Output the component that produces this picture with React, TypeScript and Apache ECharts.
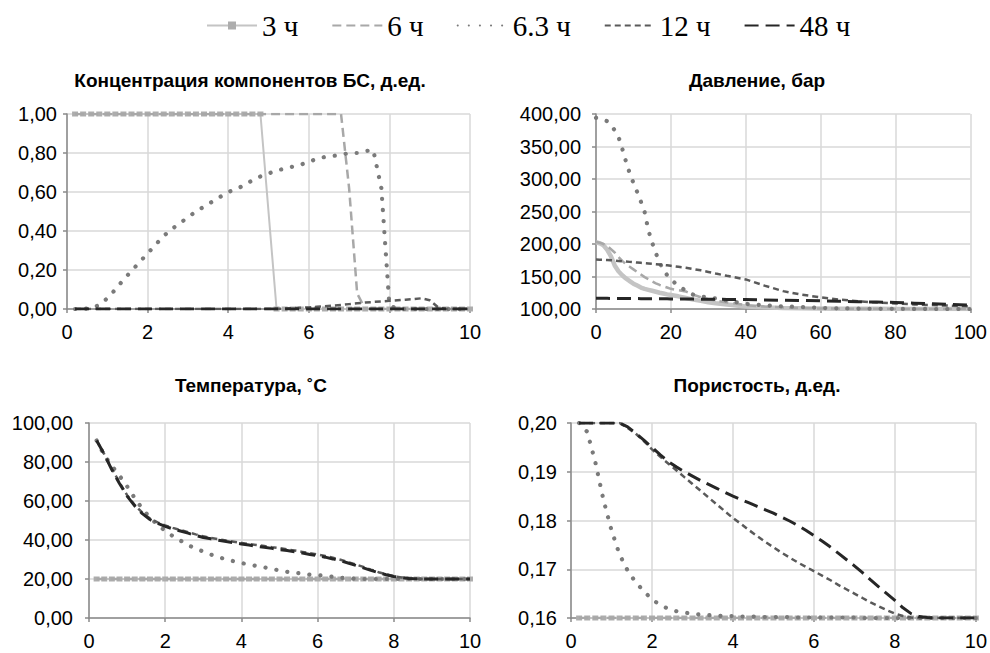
import React, { useEffect, useRef } from 'react';
import * as echarts from 'echarts';

// ---------- data ----------
const SERIES_NAMES = ['3 ч', '6 ч', '6.3 ч', '12 ч', '48 ч'];
const PANEL_TITLES = [
  'Концентрация компонентов БС, д.ед.',
  'Давление, бар',
  'Температура, ˚С',
  'Пористость, д.ед.',
];

const X_DIST = [0.2, 0.4, 0.6, 0.8, 1, 1.2, 1.4, 1.6, 1.8, 2, 2.2, 2.4, 2.6, 2.8, 3, 3.2, 3.4, 3.6, 3.8, 4,
  4.2, 4.4, 4.6, 4.8, 5, 5.2, 5.4, 5.6, 5.8, 6, 6.2, 6.4, 6.6, 6.8, 7, 7.2, 7.4, 7.6, 7.8, 8,
  8.2, 8.4, 8.6, 8.8, 9, 9.2, 9.4, 9.6, 9.8, 10];

const X_PRES = [0, 1, 2, 3, 4, 5, 6, 7, 8, 9, 10, 11, 12, 13, 14, 15, 16, 17, 18, 19, 20, 22, 24, 26, 28, 30,
  32, 35, 40, 45, 50, 55, 60, 65, 70, 75, 80, 85, 90, 95, 100];

// Concentration (д.ед.)
const CONC_3 = [1, 1, 1, 1, 1, 1, 1, 1, 1, 1, 1, 1, 1, 1, 1, 1, 1, 1, 1, 1, 1, 1, 1, 1, null,
  0, 0, 0, 0, 0, 0, 0, 0, 0, 0, 0, 0, 0, 0, 0, 0, 0, 0, 0, 0, 0, 0, 0, 0, 0];
const CONC_6 = [1, 1, 1, 1, 1, 1, 1, 1, 1, 1, 1, 1, 1, 1, 1, 1, 1, 1, 1, 1, 1, 1, 1, 1, 1, 1, 1, 1, 1, 1, 1, 1, 1, 1,
  0.62, 0.08, 0, 0, 0, 0, 0, 0, 0, 0, 0, 0, 0, 0, 0, 0];
const CONC_63 = [0, 0, 0.005, 0.02, 0.055, 0.1, 0.15, 0.195, 0.24, 0.285, 0.33, 0.375, 0.41, 0.44, 0.47, 0.5,
  0.525, 0.55, 0.575, 0.6, 0.615, 0.635, 0.66, 0.68, 0.695, 0.71, 0.72, 0.73, 0.74, 0.755, 0.77, 0.78, 0.785,
  0.79, 0.8, 0.8, 0.81, 0.815, 0.62, 0.02, 0, 0, 0, 0, 0, 0, 0, 0, 0, 0];
const CONC_12 = [0, 0, 0, 0, 0, 0, 0, 0, 0, 0, 0, 0, 0, 0, 0, 0, 0, 0, 0, 0, 0, 0, 0, 0, 0,
  0.001, 0.002, 0.004, 0.006, 0.008, 0.011, 0.014, 0.017, 0.021, 0.025, 0.029, 0.033, 0.036, 0.039, 0.042,
  0.045, 0.048, 0.051, 0.055, 0.045, 0.01, 0, 0, 0, 0];
const CONC_48 = [0, 0, 0, 0, 0, 0, 0, 0, 0, 0, 0, 0, 0, 0, 0, 0, 0, 0, 0, 0, 0, 0, 0, 0, 0,
  0, 0, 0, 0, 0, 0, 0, 0, 0, 0, 0, 0, 0, 0, 0, 0, 0, 0, 0, 0, 0, 0, 0, 0, 0];

// Pressure (бар)
const PRES_3 = [203, 201, 198, 191, 181, 167, 158, 152, 147, 143, 139, 136, 133, 131, 129.5, 128, 126.5, 125,
  123.8, 122.5, 121.5, 119.5, 117, 114.5, 112.5, 110.5, 109, 107, 104, 102.5, 101.5, 101, 100.7, 100.4, 100.3,
  100.2, 100.1, 100, 100, 100, 100];
const PRES_6 = [203, 202, 200, 197, 192, 187, 180, 174, 169, 165, 161, 157, 153, 149, 146, 142.5, 139.5, 137,
  135, 133, 131, 129, 127, 122, 118, 115, 113, 110, 106, 103.8, 102.2, 101.4, 100.8, 100.5, 100.3, 100.2, 100.1,
  100, 100, 100, 100];
const PRES_63 = [394, 393, 391, 389, 383, 375, 365, 347, 327, 309, 294, 280, 265, 249, 221, 202, 186, 171, 161,
  152, 145, 136, 128, 122, 119, 118, 116, 113, 108, 105.5, 104, 103, 101.6, 101, 100.6, 100.3, 100.2, 100.1,
  100, 100, 100];
const PRES_12 = [176, 175.8, 175.6, 175.3, 175, 174.5, 174, 173.5, 173, 172.5, 172, 171.5, 171, 170.5, 170,
  169.5, 169, 168.4, 167.8, 167.2, 166.5, 165, 163.5, 161.5, 159.5, 157, 154.5, 151, 145.5, 136, 127.5, 122,
  118, 114.5, 112, 110, 108.5, 107, 106, 105, 104];
const PRES_48 = [116.5, 116.5, 116.4, 116.4, 116.3, 116.3, 116.2, 116.2, 116.1, 116.1, 116, 116, 115.9, 115.9,
  115.8, 115.8, 115.7, 115.7, 115.6, 115.6, 115.5, 115.4, 115.3, 115.2, 115.1, 115, 114.9, 114.8, 114.5, 114,
  113.5, 113, 112.5, 111.9, 111.3, 110.7, 110, 109, 108, 107, 106];

// Temperature (˚С)
const TEMP_3 = [20, 20, 20, 20, 20, 20, 20, 20, 20, 20, 20, 20, 20, 20, 20, 20, 20, 20, 20, 20, 20, 20, 20, 20, 20,
  20, 20, 20, 20, 20, 20, 20, 20, 20, 20, 20, 20, 20, 20, 20, 20, 20, 20, 20, 20, 20, 20, 20, 20, 20];
const TEMP_6 = [20, 20, 20, 20, 20, 20, 20, 20, 20, 20, 20, 20, 20, 20, 20, 20, 20, 20, 20, 20, 20, 20, 20, 20, 20,
  20, 20, 20, 20, 20, 20, 20, 20, 20, 20, 20, 20, 20, 20, 20, 20, 20, 20, 20, 20, 20, 20, 20, 20, 20];
const TEMP_63 = [91, 83.5, 78, 73, 67.5, 61.5, 56, 51.5, 47.8, 44.7, 42, 39.7, 37.4, 35.6, 34.1, 32.5, 31.2,
  30.1, 29.1, 28.2, 27.4, 26.7, 26, 25.2, 24.4, 23.7, 23.2, 22.8, 22.2, 22, 21.6, 21.1, 20.7, 20.4, 20.1,
  20, 20, 20, 20, 20, 20, 20, 20, 20, 20, 20, 20, 20, 20, 20];
const TEMP_12 = [91, 84, 76.5, 69.5, 63, 58, 54, 51, 49, 47.5, 46.2, 45.1, 44, 42.9, 41.9, 41.1, 40.4, 39.7,
  39.1, 38.5, 37.9, 37.4, 36.9, 36.3, 35.8, 35.2, 34.6, 33.9, 33.2, 32.6, 31.8, 30.9, 29.9, 28.7, 27.5, 26.2,
  24.8, 23.5, 22.4, 21.4, 20.8, 20.4, 20.1, 20, 20, 20, 20, 20, 20, 20];
const TEMP_48 = [91, 84, 76, 69, 62.5, 57.5, 53.5, 50.5, 48.5, 47, 45.7, 44.6, 43.5, 42.3, 41.3, 40.6, 39.9,
  39.2, 38.6, 38, 37.4, 36.8, 36.3, 35.7, 35.1, 34.6, 34, 33.3, 32.6, 32, 31.2, 30.3, 29.3, 28.2, 27, 25.7,
  24.4, 23.2, 22.2, 21.3, 20.7, 20.3, 20.1, 20, 20, 20, 20, 20, 20, 20];

// Porosity (д.ед.)
const POR_3 = [0.16, 0.16, 0.16, 0.16, 0.16, 0.16, 0.16, 0.16, 0.16, 0.16, 0.16, 0.16, 0.16, 0.16, 0.16, 0.16,
  0.16, 0.16, 0.16, 0.16, 0.16, 0.16, 0.16, 0.16, 0.16, 0.16, 0.16, 0.16, 0.16, 0.16, 0.16, 0.16, 0.16, 0.16,
  0.16, 0.16, 0.16, 0.16, 0.16, 0.16, 0.16, 0.16, 0.16, 0.16, 0.16, 0.16, 0.16, 0.16, 0.16, 0.16];
const POR_6 = [0.16, 0.16, 0.16, 0.16, 0.16, 0.16, 0.16, 0.16, 0.16, 0.16, 0.16, 0.16, 0.16, 0.16, 0.16, 0.16,
  0.16, 0.16, 0.16, 0.16, 0.16, 0.16, 0.16, 0.16, 0.16, 0.16, 0.16, 0.16, 0.16, 0.16, 0.16, 0.16, 0.16, 0.16,
  0.16, 0.16, 0.16, 0.16, 0.16, 0.16, 0.16, 0.16, 0.16, 0.16, 0.16, 0.16, 0.16, 0.16, 0.16, 0.16];
const POR_63 = [0.2, 0.1982, 0.192, 0.1843, 0.178, 0.173, 0.1697, 0.1673, 0.1655, 0.1638, 0.1627, 0.1619,
  0.1614, 0.1611, 0.1609, 0.1607, 0.1606, 0.1605, 0.1604, 0.1604, 0.1603, 0.1603, 0.1603, 0.1602, 0.1602,
  0.1602, 0.1602, 0.1601, 0.1601, 0.1601, 0.1601, 0.1601, 0.1601, 0.1601, 0.1601,
  0.16, 0.16, 0.16, 0.16, 0.16, 0.16, 0.16, 0.16, 0.16, 0.16, 0.16, 0.16, 0.16, 0.16, 0.16];
const POR_12 = [0.2, 0.2, 0.2, 0.2, 0.2, 0.2, 0.199, 0.1978, 0.1963, 0.1946, 0.1931, 0.1917, 0.1903, 0.1889,
  0.1875, 0.1861, 0.1847, 0.1833, 0.1819, 0.1805, 0.1793, 0.178, 0.1768, 0.1756, 0.1745, 0.1734, 0.1724,
  0.1714, 0.1705, 0.1696, 0.1687, 0.1678, 0.1668, 0.1659, 0.165, 0.1641, 0.1632, 0.1624, 0.1616, 0.1609,
  0.1604, 0.1601, 0.16, 0.16, 0.16, 0.16, 0.16, 0.16, 0.16, 0.16];
const POR_48 = [0.2, 0.2, 0.2, 0.2, 0.2, 0.2, 0.1992, 0.1979, 0.1965, 0.195, 0.1935, 0.1921, 0.191, 0.19,
  0.1891, 0.1882, 0.1874, 0.1866, 0.1858, 0.185, 0.1843, 0.1836, 0.1829, 0.1822, 0.1815, 0.1807, 0.1799,
  0.179, 0.178, 0.1769, 0.1758, 0.1746, 0.1733, 0.172, 0.1707, 0.1693, 0.1678, 0.1664, 0.165, 0.1636,
  0.1621, 0.1609, 0.1603, 0.1601, 0.16, 0.16, 0.16, 0.16, 0.16, 0.16];

// ---------- styles ----------
const FONT = 'Liberation Sans';
const LINE_STYLES: any[] = [
  { color: '#c4c4c4', width: 2, type: 'solid', marker: '#adadad' },
  { color: '#a8a8a8', width: 2.5, type: [9, 5] },
  { color: '#7a7a7a', width: 4.2, type: [0.1, 11], cap: 'round' },
  { color: '#5a5a5a', width: 2.5, type: [6, 4] },
  { color: '#262626', width: 3, type: [14, 7] },
];

type Panel = {
  grid: { left: number; top: number; width: number; height: number };
  titleX: number; titleY: number;
  xs: number[]; xMin: number; xMax: number; xInt: number;
  yMin: number; yMax: number; yInt: number; yLabelMargin: number;
  data: (number | null)[][];
  markers: boolean;
};

const PANELS: Panel[] = [
  {
    grid: { left: 67, top: 114, width: 403, height: 195 }, titleX: 250, titleY: 71,
    xs: X_DIST, xMin: 0, xMax: 10, xInt: 2, yMin: 0, yMax: 1, yInt: 0.2, yLabelMargin: 10,
    data: [CONC_3, CONC_6, CONC_63, CONC_12, CONC_48], markers: true,
  },
  {
    grid: { left: 596, top: 114, width: 376, height: 195 }, titleX: 757, titleY: 71,
    xs: X_PRES, xMin: 0, xMax: 100, xInt: 20, yMin: 100, yMax: 400, yInt: 50, yLabelMargin: 15,
    data: [PRES_3, PRES_6, PRES_63, PRES_12, PRES_48], markers: false,
  },
  {
    grid: { left: 89, top: 423, width: 381, height: 195 }, titleX: 251, titleY: 376,
    xs: X_DIST, xMin: 0, xMax: 10, xInt: 2, yMin: 0, yMax: 100, yInt: 20, yLabelMargin: 16,
    data: [TEMP_3, TEMP_6, TEMP_63, TEMP_12, TEMP_48], markers: true,
  },
  {
    grid: { left: 571, top: 423, width: 406, height: 195 }, titleX: 757, titleY: 376,
    xs: X_DIST, xMin: 0, xMax: 10, xInt: 2, yMin: 0.16, yMax: 0.2, yInt: 0.01, yLabelMargin: 14,
    data: [POR_3, POR_6, POR_63, POR_12, POR_48], markers: true,
  },
];

function buildOption() {
  const axisLineColor = '#8a8a8a';
  const gridLineColor = '#d9d9d9';
  const labelStyle = { color: '#000', fontFamily: FONT, fontSize: 20 };

  const grids = PANELS.map((p) => ({ ...p.grid, containLabel: false }));
  const titles = PANELS.map((p, i) => ({
    text: PANEL_TITLES[i],
    left: p.titleX,
    top: p.titleY,
    textAlign: 'center',
    padding: 0,
    textStyle: { fontFamily: FONT, fontWeight: 'bold', fontSize: 19, color: '#000' },
  }));
  const xAxes = PANELS.map((p, i) => ({
    type: 'value', gridIndex: i, min: p.xMin, max: p.xMax, interval: p.xInt,
    axisLine: { show: true, onZero: false, lineStyle: { color: axisLineColor, width: 1.5 } },
    axisTick: { show: true, length: 4, lineStyle: { color: axisLineColor, width: 1.5 } },
    splitLine: { show: true, lineStyle: { color: gridLineColor, width: 1.5 } },
    axisLabel: { ...labelStyle, margin: 13, formatter: (v: number) => String(v) },
  }));
  const yAxes = PANELS.map((p, i) => ({
    type: 'value', gridIndex: i, min: p.yMin, max: p.yMax, interval: p.yInt,
    axisLine: { show: true, lineStyle: { color: axisLineColor, width: 1.5 } },
    axisTick: { show: true, length: 4, lineStyle: { color: axisLineColor, width: 1.5 } },
    splitLine: { show: true, lineStyle: { color: gridLineColor, width: 1.5 } },
    axisLabel: { ...labelStyle, margin: p.yLabelMargin, formatter: (v: number) => v.toFixed(2).replace('.', ',') },
  }));

  const series: any[] = [];
  PANELS.forEach((p, pi) => {
    p.data.forEach((vals, si) => {
      const st = LINE_STYLES[si];
      const withMarker = si === 0 && p.markers;
      series.push({
        type: 'line',
        name: SERIES_NAMES[si],
        xAxisIndex: pi,
        yAxisIndex: pi,
        data: p.xs.map((x, k) => [x, vals[k]]),
        connectNulls: true,
        symbol: si === 0 ? 'rect' : 'none',
        symbolSize: withMarker ? [6, 5] : 0,
        showSymbol: withMarker,
        itemStyle: { color: st.marker || st.color },
        lineStyle: {
          color: st.color,
          width: si === 0 && !p.markers ? 4.5 : st.width,
          type: st.type,
          cap: st.cap || 'butt',
        },
        emphasis: { disabled: true },
        silent: true,
        z: 2 + si,
      });
    });
  });

  return {
    animation: false,
    backgroundColor: '#fff',
    title: titles,
    legend: {
      top: 6,
      left: 201,
      itemWidth: 50,
      itemHeight: 10,
      itemGap: 33,
      textStyle: { fontFamily: 'Liberation Serif', fontSize: 29, color: '#000' },
      data: SERIES_NAMES.map((n, i) => (i === 0 ? { name: n } : { name: n, itemStyle: { opacity: 0 } })),
      selectedMode: false,
    },
    grid: grids,
    xAxis: xAxes,
    yAxis: yAxes,
    series,
  };
}

export default function App() {
  const ref = useRef<HTMLDivElement>(null);
  useEffect(() => {
    if (!ref.current) return;
    const chart = echarts.init(ref.current, null, { renderer: 'svg' });
    chart.setOption(buildOption() as any);
    return () => chart.dispose();
  }, []);
  return (
    <div
      ref={ref}
      style={{ position: 'fixed', left: 0, top: 0, width: 990, height: 653, background: '#fff' }}
    />
  );
}
